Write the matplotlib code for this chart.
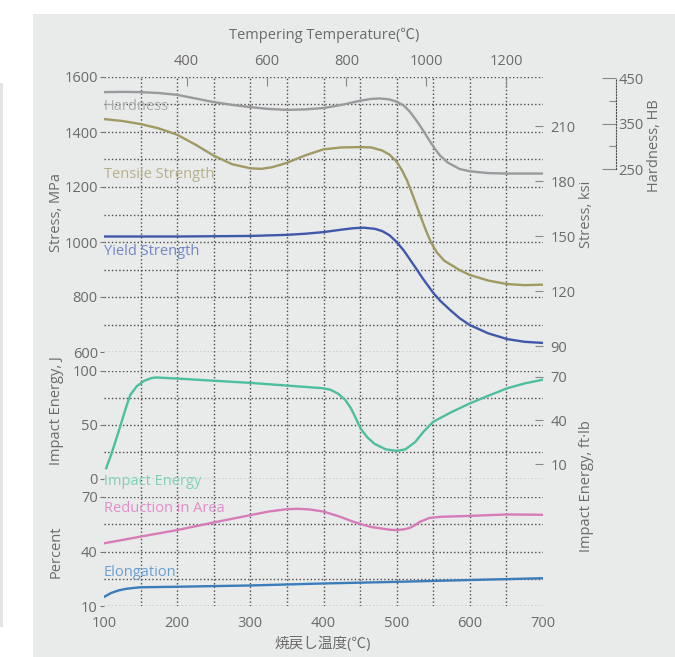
import matplotlib.pyplot as plt
import matplotlib.patches as patches
from matplotlib.ticker import FixedLocator

# values
temp_hb = [100, 125, 150, 175, 200, 225, 250, 275, 300, 325, 350, 375, 400, 425,
           450, 465, 477, 490, 500, 510, 518, 525, 532, 540, 545, 552, 559, 570,
           586, 600, 625, 650, 700]
hardness = [419, 419.5, 419, 417, 413, 405, 397, 391, 386, 382, 380, 381, 384, 391,
            400, 404, 405, 403, 398, 389, 376, 361, 345, 325, 312, 295, 280, 264,
            250, 245, 241, 240, 240]

temp_ts = [100, 125, 150, 175, 200, 225, 250, 275, 300, 315, 330, 350, 375, 400,
           425, 450, 465, 480, 490, 500, 507, 514, 522, 532, 540, 547, 555, 565,
           586, 600, 625, 651, 675, 700]
tensile = [1447, 1440, 1429, 1413, 1390, 1354, 1314, 1283, 1268, 1266, 1272, 1288,
           1315, 1337, 1344, 1345, 1344, 1333, 1318, 1292, 1262, 1225, 1170, 1098,
           1042, 998, 962, 932, 898, 880, 860, 847, 843, 845]

temp_ys = [100, 150, 200, 250, 300, 350, 375, 400, 425, 440, 455, 470, 480, 490,
           500, 510, 518, 527, 536, 550, 560, 573, 586, 600, 625, 651, 675, 700]
yield_s = [1020, 1020, 1020, 1021, 1022, 1026, 1030, 1036, 1045, 1050, 1052, 1048,
           1040, 1025, 1000, 968, 937, 902, 866, 815, 785, 753, 723, 698, 668, 647,
           637, 633]

temp_ie = [103, 110, 120, 130, 136, 145, 155, 165, 172, 200, 250, 300, 350, 400,
           410, 420, 430, 437, 443, 448, 452, 460, 470, 485, 500, 512, 525, 537,
           550, 575, 600, 625, 651, 675, 700]
impact = [10, 23, 44, 66, 78, 86, 91, 93.5, 94, 93, 91, 89, 86.5, 84, 82.5, 79, 73,
          66, 58, 50.5, 45.5, 38.5, 32.5, 27.5, 26, 27.5, 34, 44, 53, 62, 70, 77, 84,
          88.5, 92]

temp_ra = [100, 150, 200, 250, 300, 325, 350, 365, 380, 400, 422, 440, 452, 465,
           477, 490, 500, 510, 518, 525, 532, 545, 560, 600, 651, 700]
reduction = [44.5, 48.2, 51.8, 56, 60, 62, 63.3, 63.5, 63.2, 62, 59.2, 56.5, 55,
             53.5, 52.8, 52, 51.8, 52.2, 53, 54.5, 56.4, 58.5, 59.1, 59.6, 60.4, 60.2]

temp_el = [100, 110, 120, 131, 149, 200, 300, 400, 500, 600, 700]
elongation = [15, 17.2, 18.6, 19.5, 20.3, 20.6, 21.3, 22.4, 23.3, 24.3, 25.3]

stress_ticks = [600, 800, 1000, 1200, 1400, 1600]
ksi_ticks = [90, 120, 150, 180, 210]
hb_ticks = [250, 350, 450]
f_ticks = [400, 600, 800, 1000, 1200]
x_ticks = [100, 200, 300, 400, 500, 600, 700]

plt.rcParams['font.family'] = ['Open Sans', 'Noto Sans CJK JP', 'DejaVu Sans']
FS = 10.5
TXT = '#6b6b6b'
GRID = '#4a4a4a'

W, H = 675, 657
fig = plt.figure(figsize=(W / 100, H / 100), dpi=100)
fig.patch.set_facecolor('white')
fig.patches.append(patches.Rectangle((33 / W, 0), 1 - 33 / W, 1 - 14 / H,
                                     transform=fig.transFigure, fc='#e9eaea',
                                     ec='none', zorder=-10))
fig.patches.append(patches.Rectangle((0, 1 - 627 / H), 3 / W, 544 / H,
                                     transform=fig.transFigure, fc='#e4e4e4',
                                     ec='none', zorder=-10))


def px_rect(x0, y0, x1, y1):
    return [x0 / W, 1 - y1 / H, (x1 - x0) / W, (y1 - y0) / H]


def clean(ax):
    for s in ax.spines.values():
        s.set_visible(False)
    ax.set_xlim(100, 700)


# vertical grid through all three panels
ax_bg = fig.add_axes(px_rect(104, 77, 543, 606), facecolor='none')
clean(ax_bg)
ax_bg.set_xticks(range(150, 700, 50))
ax_bg.set_yticks([])
ax_bg.tick_params(axis='x', length=0, labelbottom=False)
ax_bg.grid(axis='x', ls=':', color=GRID, lw=1.0)


def panel(rect, ylim, major, minor):
    ax = fig.add_axes(rect, facecolor='none')
    clean(ax)
    ax.set_ylim(*ylim)
    ax.yaxis.set_major_locator(FixedLocator(major))
    ax.yaxis.set_minor_locator(FixedLocator(minor))
    ax.grid(axis='y', which='both', ls=':', color=GRID, lw=1.0)
    ax.tick_params(axis='y', which='major', length=3, width=0.8, color='#777',
                   pad=1.5, labelsize=FS, labelcolor=TXT)
    ax.tick_params(axis='y', which='minor', length=0)
    ax.tick_params(axis='x', length=0, labelbottom=False)
    return ax


ax1 = panel(px_rect(104, 77, 543, 352), (600, 1600), stress_ticks,
            [700, 900, 1100, 1300, 1500])
ax2 = panel(px_rect(104, 371, 543, 479), (0, 100), [0, 50, 100], [25, 75])
ax3 = panel(px_rect(104, 497, 543, 606), (10, 70), [10, 40, 70], [25, 55])

ax3.set_xticks(x_ticks)
ax3.tick_params(axis='x', length=0, labelbottom=True, labelsize=FS,
                labelcolor=TXT, pad=7)

# curves
axh = ax1.twinx()
axh.set_ylim(-152.2, 452.2)
axh.plot(temp_hb, hardness, color='#9a9a9e', lw=1.7)
ax1.plot(temp_ts, tensile, color='#a09a62', lw=1.7)
ax1.plot(temp_ys, yield_s, color='#4058aa', lw=1.7)
ax2.plot(temp_ie, impact, color='#4cbf9f', lw=1.7)
ax3.plot(temp_ra, reduction, color='#d87cb9', lw=1.7)
ax3.plot(temp_el, elongation, color='#3b7cba', lw=1.7)

# hardness scale
for k, s in axh.spines.items():
    s.set_visible(k == 'right')
axh.spines['right'].set_position(('outward', 52.5))
axh.spines['right'].set_bounds(250, 450)
axh.spines['right'].set_linestyle(':')
axh.spines['right'].set_color(GRID)
axh.yaxis.set_major_locator(FixedLocator(hb_ticks))
axh.yaxis.set_minor_locator(FixedLocator([300, 400]))
axh.tick_params(axis='y', which='major', direction='in', length=10, width=0.8,
                color='#888', pad=2, labelsize=FS, labelcolor=TXT)
axh.tick_params(axis='y', which='minor', direction='in', length=5, width=0.8,
                color='#888')


# ksi scale
def mpa2ksi(v):
    return 90 + 0.15 * (v - 621.8)


def ksi2mpa(v):
    return 621.8 + (v - 90) / 0.15


sec1 = ax1.secondary_yaxis('right', functions=(mpa2ksi, ksi2mpa))
sec1.spines['right'].set_visible(False)
sec1.set_yticks(ksi_ticks)
sec1.tick_params(direction='in', length=6, width=0.8, color='#888', pad=5.5,
                 labelsize=FS, labelcolor=TXT)

sec2 = ax2.secondary_yaxis('right', functions=(lambda j: j / 1.3558,
                                               lambda f: f * 1.3558))
sec2.spines['right'].set_visible(False)
sec2.set_yticks([10, 40, 70])
sec2.tick_params(direction='in', length=6, width=0.8, color='#888', pad=5.5,
                 labelsize=FS, labelcolor=TXT)


# tempering temperature scale on top
def c2f(c):
    return 400 + (c - 213) / 0.5458


def f2c(f):
    return 213 + (f - 400) * 0.5458


secx = ax1.secondary_xaxis('top', functions=(c2f, f2c))
secx.spines['top'].set_visible(False)
secx.set_xticks(f_ticks)
secx.tick_params(direction='in', length=6.5, width=0.8, color='#888', pad=6,
                 labelsize=FS, labelcolor=TXT)

# curve names
ax1.text(100, 1494, 'Hardness', color='#ababab', fontsize=FS, va='center')
ax1.text(100, 1247, 'Tensile Strength', color='#b5b08a', fontsize=FS, va='center')
ax1.text(100, 967, 'Yield Strength', color='#7287c8', fontsize=FS, va='center')
ax2.text(100, -2, 'Impact Energy', color='#7fd1b9', fontsize=FS, va='center')
ax3.text(100, 63.4, 'Reduction in Area', color='#e28fc9', fontsize=FS, va='center')
ax3.text(100, 28.2, 'Elongation', color='#6b9fd2', fontsize=FS, va='center')


# axis titles
def label(x, y, s, rot=0):
    fig.text(x / W, 1 - y / H, s, fontsize=FS, color=TXT, rotation=rot,
             ha='center', va='center')


label(324, 35, 'Tempering Temperature(℃)')
label(323, 644, '焼戻し温度(℃)')
label(56, 212, 'Stress, MPa', 90)
label(56, 411, 'Impact Energy, J', 90)
label(56, 552, 'Percent', 90)
label(587, 214, 'Stress, ksi', 90)
label(587, 486, 'Impact Energy, ft·lb', 90)
label(654, 146, 'Hardness, HB', 90)

fig.savefig('out.png', dpi=100)
